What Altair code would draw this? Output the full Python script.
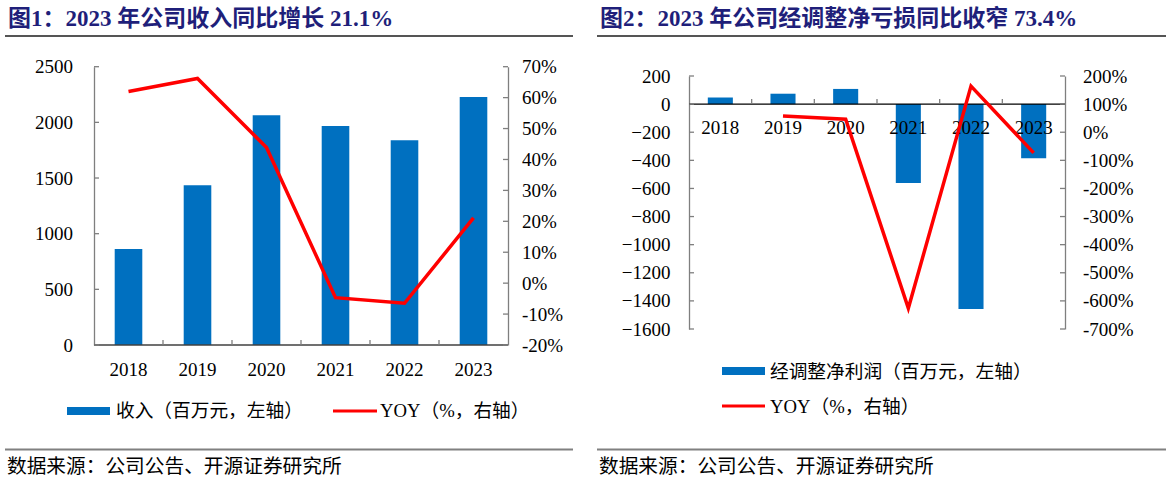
import altair as alt
import pandas as pd

# ---------------- data ----------------
years = ["2018", "2019", "2020", "2021", "2022", "2023"]
revenue = [863, 1434, 2064, 1968, 1840, 2228]            # 收入（百万元）
revenue_yoy = [62.0, 66.2, 43.9, -4.7, -6.5, 21.1]       # YOY %
adj_profit = [47, 74, 108, -562, -1458, -385]            # 经调整净利润（百万元）
adj_yoy = [None, 58.0, 46.0, -626.0, 164.0, -73.4]       # YOY %

rev_ticks = [0, 500, 1000, 1500, 2000, 2500]
rev_yoy_ticks = [-20, -10, 0, 10, 20, 30, 40, 50, 60, 70]
adj_ticks = [-1600, -1400, -1200, -1000, -800, -600, -400, -200, 0, 200]
adj_yoy_ticks = [-700, -600, -500, -400, -300, -200, -100, 0, 100, 200]

titles = ["图1：2023 年公司收入同比增长 21.1%",
          "图2：2023 年公司经调整净亏损同比收窄 73.4%"]
source_text = "数据来源：公司公告、开源证券研究所"
legend_left = ["收入（百万元，左轴）", "YOY（%，右轴）"]
legend_right = ["经调整净利润（百万元，左轴）", "YOY（%，右轴）"]

# ---------------- style / layout ----------------
W, H = 1167, 478
BLUE = "#0070C0"
RED = "#FF0000"
AXC = "#7f7f7f"
TITLE_C = "#1F1F7A"
FONT = "Liberation Serif, Noto Sans CJK SC"
LX, LY = (94, 508), (345, 66.7)     # left panel plot area (x range, y range bottom->top)
RX, RY = (689, 1065), (329, 76)     # right panel plot area

df_left = pd.DataFrame({"year": years, "value": revenue, "yoy": revenue_yoy})
df_right = pd.DataFrame({"year": years, "value": adj_profit, "yoy": adj_yoy})


def band(xr):
    return alt.Scale(type="band", domain=years, range=list(xr), paddingInner=0, paddingOuter=0)


def point(xr):
    return alt.Scale(type="point", domain=years, range=list(xr), padding=0.5)


def lin(ticks, yr):
    return alt.Scale(domain=[ticks[0], ticks[-1]], range=list(yr), nice=False, zero=False)


def panel(df, xr, yr, vticks, yticks, lpad, rpad, xaxis_y, xaxis_color, label_base):
    layers = []
    layers.append(
        alt.Chart(df).mark_bar(color=BLUE, width=alt.RelativeBandSize(0.4)).encode(
            x=alt.X("year:N", scale=band(xr), axis=None),
            y=alt.Y("value:Q", scale=lin(vticks, yr),
                    axis=alt.Axis(orient="left", offset=-xr[0], values=vticks, format="d",
                                  ticks=False, tickSize=0, labelPadding=lpad, domainColor=AXC,
                                  domainWidth=1.3, grid=False, title=None, labelFont=FONT,
                                  labelFontSize=19, labelColor="black")),
        )
    )
    # x axis line
    layers.append(
        alt.Chart(pd.DataFrame({"k": [0]})).mark_rule(color=xaxis_color, strokeWidth=1.3).encode(
            x=alt.value(xr[0]), x2=alt.value(xr[1]), y=alt.value(xaxis_y))
    )
    # category labels
    layers.append(
        alt.Chart(df).mark_text(font=FONT, fontSize=19, baseline="alphabetic", color="black").encode(
            x=alt.X("year:N", scale=band(xr), axis=None),
            y=alt.value(label_base),
            text="year:N",
        )
    )
    # yoy line
    layers.append(
        alt.Chart(df).mark_line(color=RED, strokeWidth=3.5).encode(
            x=alt.X("year:N", scale=point(xr), axis=None),
            y=alt.Y("yoy:Q", scale=lin(yticks, yr),
                    axis=alt.Axis(orient="right", offset=xr[1] - W, values=yticks, ticks=False,
                                  tickSize=0, labelPadding=rpad, domainColor=AXC, domainWidth=1.3,
                                  grid=False, title=None, labelFont=FONT, labelFontSize=19,
                                  labelColor="black", labelExpr="datum.value + '%'")),
        )
    )
    # inward ticks
    layers.append(
        alt.Chart(pd.DataFrame({"t": vticks})).mark_rule(color=AXC, strokeWidth=1.3).encode(
            y=alt.Y("t:Q", scale=lin(vticks, yr), axis=None),
            x=alt.value(xr[0]), x2=alt.value(xr[0] + 5))
    )
    layers.append(
        alt.Chart(pd.DataFrame({"t": yticks})).mark_rule(color=AXC, strokeWidth=1.3).encode(
            y=alt.Y("t:Q", scale=lin(yticks, yr), axis=None),
            x=alt.value(xr[1] - 5), x2=alt.value(xr[1]))
    )
    layers.append(
        alt.Chart(pd.DataFrame({"year": years[1:]})).mark_rule(color=AXC, strokeWidth=1.3).encode(
            x=alt.X("year:N", scale=band(xr), bandPosition=0, axis=None),
            y=alt.value(xaxis_y - 5), y2=alt.value(xaxis_y))
    )
    return layers


def text(s, x, y, size, color="black", weight="normal"):
    return alt.Chart(pd.DataFrame({"s": [s]})).mark_text(
        align="left", baseline="middle", font=FONT, fontSize=size, fontWeight=weight, color=color
    ).encode(x=alt.value(x), y=alt.value(y), text="s:N")


def hrule(x1, x2, y, color, sw):
    return alt.Chart(pd.DataFrame({"k": [0]})).mark_rule(color=color, strokeWidth=sw).encode(
        x=alt.value(x1), x2=alt.value(x2), y=alt.value(y))


def rect(x1, x2, y1, y2, color):
    return alt.Chart(pd.DataFrame({"k": [0]})).mark_rect(color=color).encode(
        x=alt.value(x1), x2=alt.value(x2), y=alt.value(y1), y2=alt.value(y2))


zero_y = RY[1] + (RY[0] - RY[1]) * (adj_ticks[-1] - 0) / (adj_ticks[-1] - adj_ticks[0])

layers = []
layers += panel(df_left, LX, LY, rev_ticks, rev_yoy_ticks, 21.5, 13.5, LY[0], "#404040", 376)
layers += panel(df_right, RX, RY, adj_ticks, adj_yoy_ticks, 19, 17.5, zero_y, "black", 134)

# titles and separators
layers += [
    text(titles[0], 8, 19, 23, TITLE_C, "bold"),
    text(titles[1], 600, 19, 23, TITLE_C, "bold"),
    hrule(5, 573, 36, "#555555", 2),
    hrule(597, 1166, 36, "#555555", 2),
    hrule(5, 573, 449.5, "#808080", 2),
    hrule(597, 1166, 449.5, "#808080", 2),
    text(source_text, 7, 467, 19.7),
    text(source_text, 599, 467, 19.7),
]
# legends
layers += [
    rect(67, 110, 407, 415, BLUE),
    text(legend_left[0], 116, 411, 18.7),
    hrule(333, 377, 411, RED, 3),
    text(legend_left[1], 380, 411, 18.7),
    rect(722, 765, 367, 375, BLUE),
    text(legend_right[0], 770, 372, 18.7),
    hrule(722, 765, 406, RED, 3),
    text(legend_right[1], 770, 407, 18.7),
]

chart = alt.layer(*layers).resolve_scale(x="independent", y="independent").properties(
    width=W, height=H, padding=0, autosize=alt.AutoSizeParams(type="none"),
    background="white",
).configure_view(stroke=None)

chart.save("out.html", embed_options={"renderer": "svg", "actions": False})
